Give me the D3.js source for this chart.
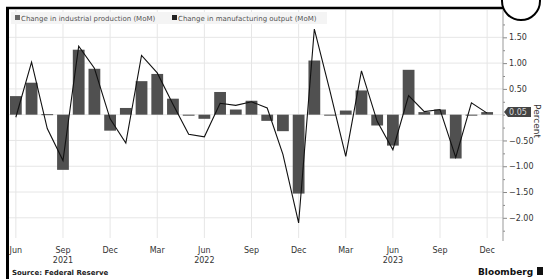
<!DOCTYPE html>
<html>
<head>
<meta charset="utf-8">
<script src="https://cdn.jsdelivr.net/npm/d3@7/dist/d3.min.js"></script>
<style>
body { margin: 0; background: #fff; }
svg { display: block; font-family: "DejaVu Sans", sans-serif; }
</style>
</head>
<body>
<div id="graph"></div>
<script>
// monthly data, Jun 2021 - Dec 2023
var months = ["2021-06","2021-07","2021-08","2021-09","2021-10","2021-11","2021-12",
              "2022-01","2022-02","2022-03","2022-04","2022-05","2022-06","2022-07","2022-08","2022-09","2022-10","2022-11","2022-12",
              "2023-01","2023-02","2023-03","2023-04","2023-05","2023-06","2023-07","2023-08","2023-09","2023-10","2023-11","2023-12"];

// change in manufacturing output (bars)
var manufacturing = [0.36, 0.62, 0.01, -1.07, 1.26, 0.89, -0.31,
                     0.13, 0.65, 0.79, 0.31, -0.02, -0.08, 0.44, 0.10, 0.27, -0.12, -0.32, -1.53,
                     1.05, -0.01, 0.08, 0.47, -0.21, -0.60, 0.87, 0.05, 0.10, -0.85, -0.01, 0.05];

// change in industrial production (line)
var industrial = [-0.05, 1.02, -0.27, -0.89, 1.33, 0.90, -0.08,
                  -0.55, 1.15, 0.81, 0.20, -0.38, -0.43, 0.22, 0.18, 0.25, 0.13, -0.77, -2.10,
                  1.66, 0.45, -0.81, 0.85, -0.13, -0.68, 0.37, 0.06, 0.10, -0.83, 0.23, 0.03];

var tickMonths = ["2021-06","2021-09","2021-12","2022-03","2022-06","2022-09","2022-12","2023-03","2023-06","2023-09","2023-12"];
var tickLabels = ["Jun","Sep","Dec","Mar","Jun","Sep","Dec","Mar","Jun","Sep","Dec"];
var yearMonths = ["2021-09","2022-06","2023-06"];
var yearLabels = ["2021","2022","2023"];

var yTicks = [1.5, 1, 0.5, -0.5, -1, -1.5, -2];
var yGrid = [1.5, 1, 0.5, 0, -0.5, -1, -1.5, -2];
var yMinor = [1.75, 1.25, 0.75, 0.25, 0, -0.25, -0.75, -1.25, -1.75, -2.25];
var legendLabels = ["Change in industrial production (MoM)", "Change in manufacturing output (MoM)"];
var lastValue = 0.05;

var width = 543, height = 279;
var plotTop = 10, plotBottom = 241, axisX = 503;

var svg = d3.select("#graph").append("svg")
    .attr("width", width)
    .attr("height", height);

var x = d3.scaleBand()
    .domain(months)
    .range([8, 495])
    .paddingInner(0.25)
    .paddingOuter(0.125);

var y = d3.scaleLinear()
    .domain([-2.45, 2.03])
    .range([plotBottom, plotTop]);

function cx(m) { return x(m) + x.bandwidth() / 2; }

// gridlines
svg.append("g").selectAll("line")
    .data(yGrid)
    .enter().append("line")
    .attr("x1", 9).attr("x2", axisX)
    .attr("y1", function(d) { return y(d); })
    .attr("y2", function(d) { return y(d); })
    .attr("stroke", "#e6e6e6")
    .attr("stroke-width", 1);

svg.append("g").selectAll("line")
    .data(tickMonths)
    .enter().append("line")
    .attr("x1", function(d) { return cx(d); })
    .attr("x2", function(d) { return cx(d); })
    .attr("y1", plotTop).attr("y2", plotBottom - 3)
    .attr("stroke", "#e6e6e6")
    .attr("stroke-width", 1);

// legend
svg.append("rect")
    .attr("x", 11).attr("y", 12)
    .attr("width", 316).attr("height", 12)
    .attr("fill", "#f4f4f4");

var legend = svg.append("g").attr("font-size", 7).attr("fill", "#555");
legend.append("rect").attr("x", 15).attr("y", 15).attr("width", 5).attr("height", 5).attr("fill", "#666");
legend.append("text").attr("x", 21).attr("y", 20.5).text(legendLabels[0]);
legend.append("rect").attr("x", 172).attr("y", 15).attr("width", 5).attr("height", 5).attr("fill", "#222");
legend.append("text").attr("x", 178).attr("y", 20.5).text(legendLabels[1]);

// bars
svg.append("g").selectAll("rect")
    .data(months)
    .enter().append("rect")
    .attr("x", function(d) { return x(d); })
    .attr("width", x.bandwidth())
    .attr("y", function(d, i) { return Math.min(y(manufacturing[i]), y(0)); })
    .attr("height", function(d, i) { return Math.max(1, Math.abs(y(manufacturing[i]) - y(0))); })
    .attr("fill", "#505050");

// line
var line = d3.line()
    .x(function(d, i) { return cx(months[i]); })
    .y(function(d) { return y(d); });

svg.append("path")
    .datum(industrial)
    .attr("d", line)
    .attr("fill", "none")
    .attr("stroke", "#111")
    .attr("stroke-width", 1.1);

// right axis
var yAxis = svg.append("g")
    .attr("transform", "translate(" + axisX + ",0)")
    .call(d3.axisRight(y).tickValues(yTicks).tickFormat(d3.format(".2f")).tickSize(4).tickPadding(2));
yAxis.select(".domain").remove();
yAxis.selectAll("line").attr("stroke", "#888");
yAxis.selectAll("text").attr("font-family", "DejaVu Sans").attr("font-size", 8).attr("fill", "#333");

var yMinorAxis = svg.append("g")
    .attr("transform", "translate(" + axisX + ",0)")
    .call(d3.axisRight(y).tickValues(yMinor).tickFormat("").tickSize(2));
yMinorAxis.select(".domain").remove();
yMinorAxis.selectAll("line").attr("stroke", "#888");

svg.append("line")
    .attr("x1", axisX).attr("x2", axisX)
    .attr("y1", plotTop).attr("y2", plotBottom)
    .attr("stroke", "#999");

// last value flag
var fy = y(lastValue);
svg.append("path")
    .attr("d", "M" + (axisX + 1) + "," + fy + "L" + (axisX + 5) + "," + (fy - 5) + "H531V" + (fy + 5) + "H" + (axisX + 5) + "Z")
    .attr("fill", "#444");
svg.append("text")
    .attr("x", 518).attr("y", fy + 3)
    .attr("text-anchor", "middle")
    .attr("font-size", 8)
    .attr("fill", "#d8d8d8")
    .text(d3.format(".2f")(lastValue));

svg.append("text")
    .attr("transform", "translate(534," + 121 + ") rotate(90)")
    .attr("text-anchor", "middle")
    .attr("font-size", 9)
    .attr("fill", "#333")
    .text("Percent");

// x axis
var xAxis = svg.append("g")
    .attr("transform", "translate(0," + plotBottom + ")")
    .call(d3.axisBottom(x).tickValues(tickMonths).tickFormat(function(d, i) { return tickLabels[i]; }).tickSize(0).tickPadding(6));
xAxis.select(".domain").remove();
xAxis.selectAll("text").attr("font-family", "DejaVu Sans").attr("font-size", 8).attr("fill", "#333");

svg.append("g").selectAll("text")
    .data(yearMonths)
    .enter().append("text")
    .attr("x", function(d) { return cx(d); })
    .attr("y", 263)
    .attr("text-anchor", "middle")
    .attr("font-size", 8)
    .attr("fill", "#333")
    .text(function(d, i) { return yearLabels[i]; });

// frame
svg.append("line").attr("x1", 6).attr("x2", axisX + 1).attr("y1", 8).attr("y2", 8)
    .attr("stroke", "#000").attr("stroke-width", 2.5);
svg.append("line").attr("x1", 7.5).attr("x2", 7.5).attr("y1", 7).attr("y2", height)
    .attr("stroke", "#000").attr("stroke-width", 3);
svg.append("circle").attr("cx", 521).attr("cy", 1).attr("r", 19)
    .attr("fill", "#fff").attr("stroke", "#000").attr("stroke-width", 2);

// footer
svg.append("text")
    .attr("x", 12).attr("y", 275)
    .attr("font-size", 7).attr("font-weight", "bold").attr("fill", "#222")
    .text("Source: Federal Reserve");
svg.append("text")
    .attr("x", 478).attr("y", 275)
    .attr("font-size", 9).attr("font-weight", "bold").attr("fill", "#111")
    .text("Bloomberg");
svg.append("rect").attr("x", 537).attr("y", 267).attr("width", 7).attr("height", 8).attr("fill", "#111");
</script>
</body>
</html>
